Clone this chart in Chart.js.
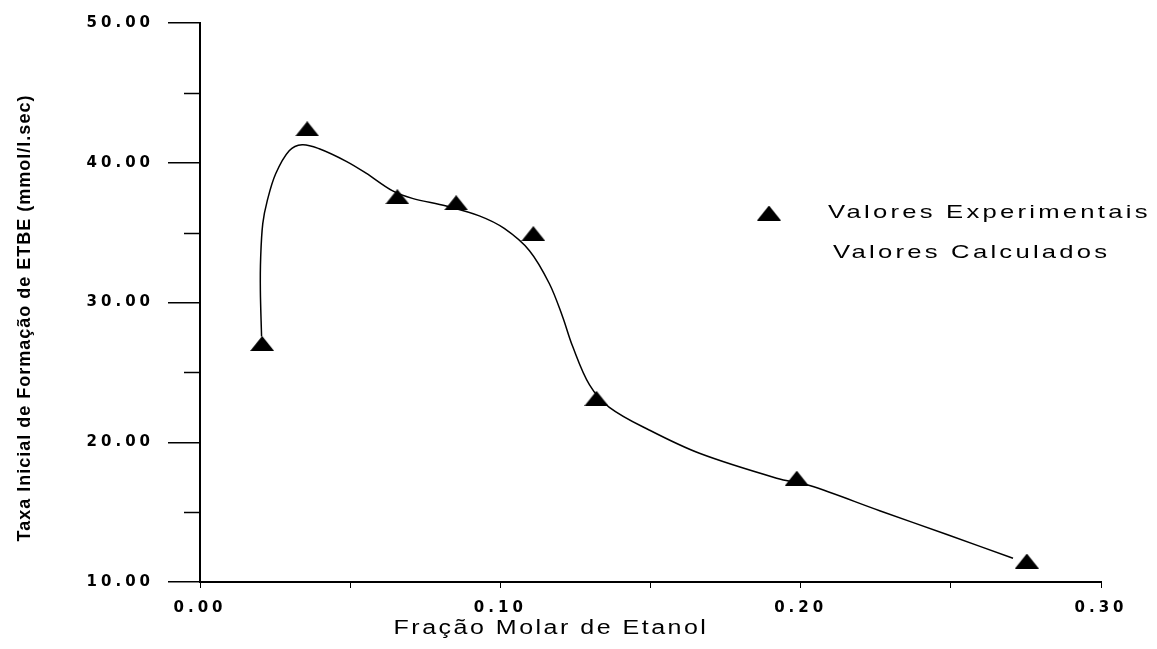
<!DOCTYPE html>
<html>
<head>
<meta charset="utf-8">
<script src="https://cdn.jsdelivr.net/npm/chart.js@4/dist/chart.umd.min.js"></script>
<style>
  html, body { margin: 0; padding: 0; background: #fff; }
  #wrap { width: 1157px; height: 649px; }
</style>
</head>
<body>
<div id="wrap"><canvas id="chart" width="1157" height="649"></canvas></div>
<script>
// ---------- Données ----------
const expX = [0.0207, 0.0357, 0.0657, 0.0853, 0.1110, 0.1320, 0.1987, 0.2753];
const expY = [27.07, 42.43, 37.57, 37.14, 34.93, 23.14, 17.43, 11.50];

const calcX = [0.0205, 0.0201, 0.0202, 0.0209, 0.0224, 0.0252, 0.0297, 0.0340, 0.0397, 0.0487,
  0.0553, 0.0640, 0.0707, 0.0820, 0.0930, 0.1013, 0.1097, 0.1163, 0.1207, 0.1240,
  0.1297, 0.1363, 0.1497, 0.1663, 0.1920, 0.2030, 0.2263, 0.2487, 0.2707];
const calcY = [27.57, 30.86, 33.21, 35.64, 37.29, 39.21, 40.86, 41.29, 41.00, 40.10,
  39.25, 38.00, 37.45, 36.90, 36.20, 35.30, 33.71, 31.36, 29.00, 26.90,
  24.10, 22.50, 20.86, 19.21, 17.43, 16.90, 15.10, 13.40, 11.70];

const yMajorTicks = [10, 20, 30, 40, 50];
const yMinorTicks = [15, 25, 35, 45];
const xTickLabels = ["0.00", "0.10", "0.20", "0.30"];

const labelExp = "Valores Experimentais";
const labelCalc = "Valores Calculados";
const titleX = "Fração Molar de Etanol";
const titleY = "Taxa Inicial de Formação de ETBE (mmol/l.sec)";

const FONT = '"Liberation Sans", Arial, sans-serif';
const TICKFONT = '"DejaVu Sans", sans-serif';

// triangle plat (marqueur)
function makeTriangle(w, h) {
  const c = document.createElement("canvas");
  c.width = w; c.height = h;
  const g = c.getContext("2d");
  g.fillStyle = "#000";
  g.beginPath();
  g.moveTo(0, h); g.lineTo(w / 2, 0); g.lineTo(w, h);
  g.closePath();
  g.fill();
  return c;
}
const tri = makeTriangle(24, 15);

const expPoints = expX.map((x, i) => ({ x, y: expY[i] }));
const calcPoints = calcX.map((x, i) => ({ x, y: calcY[i] }));

// texte étiré horizontalement
function wideText(ctx, txt, x, y, sx) {
  ctx.save();
  ctx.translate(x, y);
  ctx.scale(sx, 1);
  ctx.fillText(txt, 0, 0);
  ctx.restore();
}

// ---------- Plugin: ticks mineurs, titres, légende ----------
const decor = {
  id: "decor",
  beforeDraw(chart) {
    chart.ctx.letterSpacing = "4px";
  },
  afterDraw(chart) {
    const ctx = chart.ctx;
    const ys = chart.scales.y;
    const xs = chart.scales.x;
    ctx.save();
    ctx.letterSpacing = "0px";
    ctx.strokeStyle = "#000";
    ctx.lineWidth = 1.5;
    yMinorTicks.forEach(v => {
      const py = Math.round(ys.getPixelForValue(v)) + 0.5;
      ctx.beginPath();
      ctx.moveTo(xs.left - 16, py);
      ctx.lineTo(xs.left, py);
      ctx.stroke();
    });

    ctx.fillStyle = "#000";
    ctx.textBaseline = "middle";

    // titre axe X
    ctx.font = "20px " + FONT;
    ctx.letterSpacing = "2px";
    ctx.textAlign = "center";
    wideText(ctx, titleX, 551, 628, 1.25);

    // titre axe Y
    ctx.save();
    ctx.translate(25, 318);
    ctx.rotate(-Math.PI / 2);
    ctx.font = "bold 18px " + FONT;
    ctx.letterSpacing = "1px";
    ctx.fillText(titleY, 0, 0);
    ctx.restore();

    // légende
    ctx.drawImage(tri, 769 - 12, 213 - 7.5);
    ctx.font = "19px " + FONT;
    ctx.letterSpacing = "2.4px";
    ctx.textAlign = "left";
    wideText(ctx, labelExp, 828, 213, 1.35);
    wideText(ctx, labelCalc, 833, 253, 1.35);
    ctx.restore();
  }
};

new Chart(document.getElementById("chart"), {
  type: "scatter",
  data: {
    datasets: [
      {
        label: labelCalc,
        data: calcPoints,
        showLine: true,
        borderColor: "#000",
        borderWidth: 1.5,
        tension: 0.35,
        pointRadius: 0,
        fill: false,
        order: 2
      },
      {
        label: labelExp,
        data: expPoints,
        pointStyle: tri,
        pointRadius: 12,
        backgroundColor: "#000",
        borderColor: "#000",
        order: 1
      }
    ]
  },
  options: {
    responsive: false,
    animation: false,
    layout: { padding: { top: 22, right: 56, left: 0, bottom: 0 } },
    plugins: {
      legend: { display: false },
      tooltip: { enabled: false }
    },
    scales: {
      x: {
        type: "linear",
        min: 0,
        max: 0.30,
        afterFit(scale) { scale.height = 67; },
        border: { display: true, color: "#000", width: 2 },
        grid: { drawOnChartArea: false, drawTicks: true, tickLength: 6, color: "#000", lineWidth: 1 },
        ticks: {
          stepSize: 0.05,
          padding: 11,
          color: "#000",
          font: { family: TICKFONT, size: 15, weight: "bold" },
          maxRotation: 0,
          autoSkip: false,
          callback(v) {
            const k = Math.round(v * 100);
            return k % 10 === 0 ? xTickLabels[k / 10] : "";
          }
        }
      },
      y: {
        type: "linear",
        min: 10,
        max: 50,
        afterFit(scale) { scale.width = 200; },
        border: { display: true, color: "#000", width: 2 },
        grid: { drawOnChartArea: false, drawTicks: true, tickLength: 32, color: "#000", lineWidth: 1.5 },
        ticks: {
          stepSize: 10,
          padding: 14,
          color: "#000",
          font: { family: TICKFONT, size: 15, weight: "bold" },
          callback(v) { return yMajorTicks.includes(v) ? v.toFixed(2) : ""; }
        }
      }
    }
  },
  plugins: [decor]
});
</script>
</body>
</html>
